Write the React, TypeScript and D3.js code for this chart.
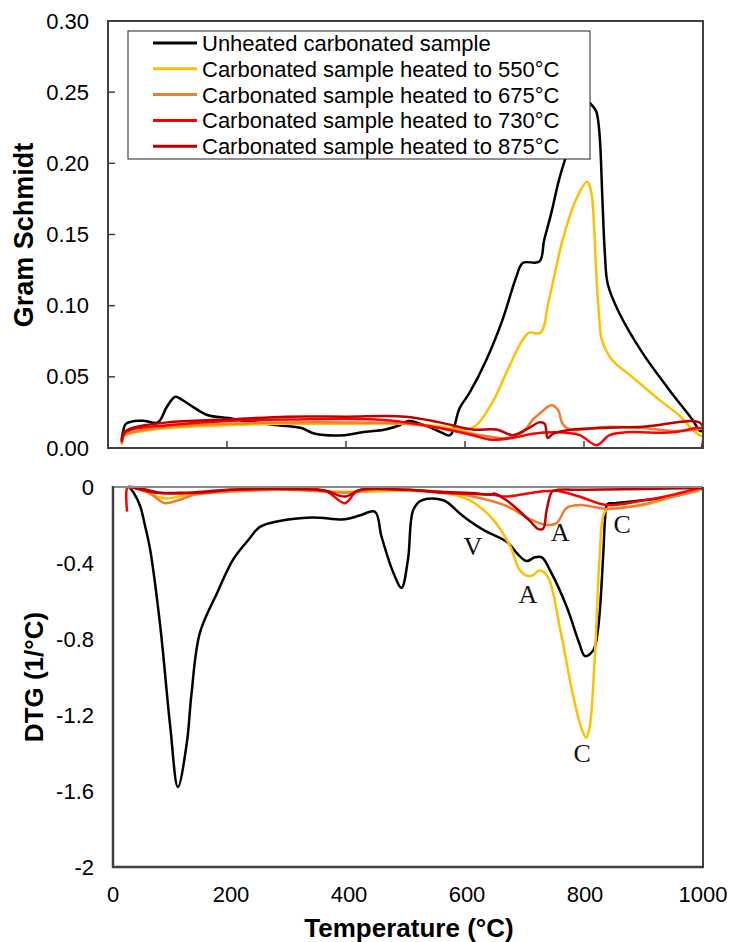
import * as d3 from "d3";

type Pt = [number, number];

// Gram Schmidt (top panel), [temperature °C, value]
const blackGS: Pt[] = [
  [23, 0.006], [26, 0.013], [30, 0.017], [45, 0.019], [62, 0.019], [84, 0.018], [99, 0.029],
  [113, 0.036], [124, 0.034], [146, 0.028], [168, 0.023], [202, 0.021], [230, 0.019],
  [286, 0.016], [325, 0.014], [348, 0.01], [398, 0.009], [427, 0.011], [466, 0.013],
  [490, 0.016], [505, 0.019], [538, 0.015], [560, 0.011], [575, 0.009], [591, 0.028],
  [608, 0.039], [636, 0.062], [663, 0.09], [686, 0.12], [697, 0.13], [725, 0.131],
  [733, 0.146], [745, 0.165], [759, 0.19], [781, 0.219], [795, 0.235], [806, 0.243],
  [815, 0.24], [821, 0.236], [826, 0.221], [831, 0.174], [835, 0.137], [840, 0.115],
  [859, 0.095], [898, 0.067], [943, 0.041], [982, 0.02], [995, 0.012], [1000, 0.012],
];
const yellowGS: Pt[] = [
  [23, 0.002], [27, 0.008], [35, 0.01], [60, 0.012], [100, 0.014], [200, 0.016], [300, 0.017],
  [400, 0.017], [500, 0.017], [560, 0.015], [600, 0.013], [619, 0.016], [646, 0.032],
  [674, 0.057], [697, 0.076], [708, 0.081], [727, 0.081], [741, 0.104], [764, 0.146],
  [786, 0.174], [805, 0.187], [812, 0.18], [817, 0.155], [820, 0.128], [825, 0.095],
  [830, 0.076], [847, 0.062], [881, 0.05], [926, 0.034], [960, 0.023], [982, 0.013],
  [994, 0.009], [1000, 0.008],
];
const orangeGS: Pt[] = [
  [23, 0.003], [27, 0.009], [40, 0.011], [100, 0.015], [200, 0.017], [300, 0.018], [400, 0.018],
  [500, 0.017], [560, 0.014], [600, 0.011], [641, 0.008], [670, 0.007], [697, 0.011],
  [714, 0.02], [725, 0.024], [745, 0.03], [756, 0.027], [764, 0.017], [776, 0.013],
  [840, 0.015], [900, 0.014], [950, 0.012], [990, 0.013], [1000, 0.014],
];
const redGS: Pt[] = [
  [23, 0.004], [27, 0.01], [40, 0.013], [100, 0.016], [200, 0.019], [300, 0.02], [450, 0.02],
  [500, 0.018], [557, 0.014], [613, 0.009], [641, 0.006], [680, 0.007], [714, 0.01],
  [754, 0.011], [793, 0.009], [821, 0.002], [843, 0.009], [871, 0.011], [949, 0.011],
  [989, 0.014], [1000, 0.014],
];
const darkRedGS: Pt[] = [
  [23, 0.005], [27, 0.011], [40, 0.014], [100, 0.018], [200, 0.02], [300, 0.022], [400, 0.022],
  [500, 0.022], [557, 0.018], [613, 0.013], [653, 0.013], [680, 0.009], [703, 0.013],
  [725, 0.018], [734, 0.017], [739, 0.007], [748, 0.01], [781, 0.013], [900, 0.015],
  [997, 0.017], [998, 0.0],
];

// DTG (bottom panel), [temperature °C, 1/°C]
const blackDTG: Pt[] = [
  [27, 0], [35, -0.03], [46, -0.1], [54, -0.2], [63, -0.33], [80, -0.73], [97, -1.26],
  [110, -1.58], [125, -1.35], [133, -1.09], [147, -0.77], [176, -0.56], [204, -0.38],
  [229, -0.28], [249, -0.21], [280, -0.18], [337, -0.16], [393, -0.17], [418, -0.15],
  [444, -0.13], [455, -0.26], [475, -0.45], [489, -0.53], [500, -0.38], [509, -0.12],
  [523, -0.07], [560, -0.07], [588, -0.14], [605, -0.18], [630, -0.23], [668, -0.29],
  [685, -0.35], [701, -0.39], [715, -0.37], [727, -0.37], [741, -0.44], [769, -0.63],
  [790, -0.82], [800, -0.89], [814, -0.86], [822, -0.75], [831, -0.35], [834, -0.17],
  [838, -0.09], [850, -0.085], [898, -0.07], [949, -0.05], [978, -0.025], [1000, 0],
];
const yellowDTG: Pt[] = [
  [27, 0], [45, -0.01], [65, -0.04], [90, -0.06], [120, -0.045], [160, -0.03], [200, -0.02],
  [300, -0.015], [400, -0.025], [500, -0.02], [560, -0.03], [605, -0.07], [644, -0.17],
  [673, -0.31], [690, -0.44], [707, -0.47], [724, -0.44], [738, -0.48], [758, -0.75],
  [780, -1.1], [795, -1.28], [802, -1.32], [808, -1.26], [817, -0.87], [825, -0.35],
  [831, -0.15], [837, -0.12], [860, -0.11], [900, -0.095], [950, -0.05], [1000, -0.01],
];
const orangeDTG: Pt[] = [
  [27, 0], [49, -0.005], [70, -0.05], [88, -0.085], [110, -0.07], [139, -0.04], [195, -0.025],
  [300, -0.015], [393, -0.03], [450, -0.015], [554, -0.025], [610, -0.05], [667, -0.1],
  [707, -0.17], [735, -0.2], [752, -0.19], [769, -0.11], [792, -0.095], [837, -0.115],
  [893, -0.095], [949, -0.05], [995, -0.015], [1000, -0.005],
];
const redDTG: Pt[] = [
  [24, -0.13], [25, 0], [40, -0.01], [71, -0.03], [150, -0.03], [200, -0.015], [300, -0.01],
  [360, -0.02], [393, -0.085], [415, -0.02], [500, -0.015], [554, -0.03], [639, -0.04],
  [667, -0.05], [700, -0.035], [723, -0.025], [752, -0.02], [790, -0.05], [837, -0.095],
  [900, -0.07], [950, -0.04], [1000, 0],
];
const darkRedDTG: Pt[] = [
  [27, 0], [50, -0.01], [80, -0.03], [120, -0.03], [200, -0.015], [300, -0.01], [360, -0.02],
  [393, -0.05], [420, -0.015], [500, -0.015], [554, -0.025], [620, -0.035], [639, -0.04],
  [647, -0.035], [667, -0.07], [690, -0.13], [707, -0.18], [720, -0.22], [729, -0.22],
  [735, -0.12], [744, -0.025], [752, -0.016], [800, -0.015], [900, -0.01], [1000, -0.005],
];

const seriesNames = [
  "Unheated carbonated sample",
  "Carbonated sample heated to 550°C",
  "Carbonated sample heated to 675°C",
  "Carbonated sample heated to 730°C",
  "Carbonated sample heated to 875°C",
];
const seriesColors = ["#000000", "#FFC000", "#ED7D31", "#FF0000", "#C00000"];
const gsSeries = [blackGS, yellowGS, orangeGS, redGS, darkRedGS];
const dtgSeries = [blackDTG, yellowDTG, orangeDTG, redDTG, darkRedDTG];

const gsTicks = [0, 0.05, 0.1, 0.15, 0.2, 0.25, 0.3];
const dtgTicks = [0, -0.4, -0.8, -1.2, -1.6, -2];
const tempTicks = [0, 200, 400, 600, 800, 1000];

// peak labels in the DTG panel: V = vaterite, A = aragonite, C = calcite
const peakLabels: { text: string; t: number; v: number }[] = [
  { text: "V", t: 610, v: -0.358 },
  { text: "A", t: 758, v: -0.284 },
  { text: "C", t: 863, v: -0.242 },
  { text: "A", t: 703, v: -0.61 },
  { text: "C", t: 795, v: -1.447 },
];

const sans = "'Liberation Sans', Arial, sans-serif";
const serif = "'Liberation Serif', 'Times New Roman', serif";
const frame = "#404040";

export default function App() {
  const xTop = d3.scaleLinear().domain([0, 1000]).range([108, 703]);
  const yTop = d3.scaleLinear().domain([0, 0.3]).range([448, 21]);
  const xBot = d3.scaleLinear().domain([0, 1000]).range([113, 703]);
  const yBot = d3.scaleLinear().domain([-2, 0]).range([867, 487]);

  const lineTop = d3
    .line<Pt>()
    .x((d) => xTop(d[0]))
    .y((d) => yTop(d[1]))
    .curve(d3.curveCatmullRom.alpha(0.5));
  const lineBot = d3
    .line<Pt>()
    .x((d) => xBot(d[0]))
    .y((d) => yBot(d[1]))
    .curve(d3.curveCatmullRom.alpha(0.5));

  const legendX = 128;
  const legendY = 31;
  const rowH = 25.8;

  return (
    <svg
      width={731}
      height={942}
      style={{ position: "absolute", left: 0, top: 0, background: "#fff" }}
    >
      {/* top panel: Gram Schmidt */}
      <defs>
        <clipPath id="clipTop">
          <rect x={108} y={21} width={595} height={428} />
        </clipPath>
        <clipPath id="clipBot">
          <rect x={113} y={480} width={590} height={387} />
        </clipPath>
      </defs>
      <g clipPath="url(#clipTop)">
        {gsSeries.map((s, i) => (
          <path key={i} d={lineTop(s) ?? ""} fill="none" stroke={seriesColors[i]} strokeWidth={2.5} />
        ))}
      </g>
      <rect x={108} y={21} width={595} height={427} fill="none" stroke={frame} strokeWidth={2} />
      {gsTicks.map((t) => (
        <g key={t}>
          <line x1={108} x2={115} y1={yTop(t)} y2={yTop(t)} stroke={frame} strokeWidth={1.5} />
          <text
            x={89}
            y={yTop(t) + 7.5}
            textAnchor="end"
            fontFamily={sans}
            fontSize={22}
            fill="#000"
          >
            {t.toFixed(2)}
          </text>
        </g>
      ))}
      {tempTicks.slice(1, -1).map((t) => (
        <line key={t} x1={xTop(t)} x2={xTop(t)} y1={448} y2={441} stroke={frame} strokeWidth={1.5} />
      ))}
      <text
        transform="translate(33,235) rotate(-90)"
        textAnchor="middle"
        fontFamily={sans}
        fontWeight="bold"
        fontSize={27}
      >
        Gram Schmidt
      </text>

      {/* legend */}
      <rect x={legendX} y={legendY} width={462} height={128} fill="#fff" stroke="#222" strokeWidth={1} />
      {seriesNames.map((name, i) => {
        const cy = 43 + i * rowH;
        return (
          <g key={name}>
            <line x1={153} x2={197} y1={cy} y2={cy} stroke={seriesColors[i]} strokeWidth={3} />
            <text x={202} y={cy + 8} fontFamily={sans} fontSize={22} fill="#000">
              {name}
            </text>
          </g>
        );
      })}

      {/* bottom panel: DTG */}
      <g clipPath="url(#clipBot)">
        {dtgSeries.map((s, i) => (
          <path key={i} d={lineBot(s) ?? ""} fill="none" stroke={seriesColors[i]} strokeWidth={2.5} />
        ))}
      </g>
      <line x1={113} x2={703} y1={487} y2={487} stroke="#8a8a8a" strokeWidth={2} />
      <line x1={703} x2={703} y1={487} y2={867} stroke={frame} strokeWidth={2} />
      <line x1={113} x2={113} y1={486} y2={868} stroke={frame} strokeWidth={2.5} />
      <line x1={112} x2={704} y1={867} y2={867} stroke={frame} strokeWidth={2.5} />
      {dtgTicks.map((t) => (
        <text
          key={t}
          x={94}
          y={yBot(t) + 7.5}
          textAnchor="end"
          fontFamily={sans}
          fontSize={22}
          fill="#000"
        >
          {t === 0 ? "0" : String(t)}
        </text>
      ))}
      {tempTicks.map((t) => (
        <text key={t} x={xBot(t)} y={902} textAnchor="middle" fontFamily={sans} fontSize={22} fill="#000">
          {t}
        </text>
      ))}
      {peakLabels.map((p, i) => (
        <text
          key={i}
          x={xBot(p.t)}
          y={yBot(p.v)}
          textAnchor="middle"
          fontFamily={serif}
          fontSize={26}
          fill="#111"
        >
          {p.text}
        </text>
      ))}
      <text
        transform="translate(43,677) rotate(-90)"
        textAnchor="middle"
        fontFamily={sans}
        fontWeight="bold"
        fontSize={26}
      >
        DTG (1/°C)
      </text>
      <text x={409} y={937} textAnchor="middle" fontFamily={sans} fontWeight="bold" fontSize={26}>
        Temperature (°C)
      </text>
    </svg>
  );
}
